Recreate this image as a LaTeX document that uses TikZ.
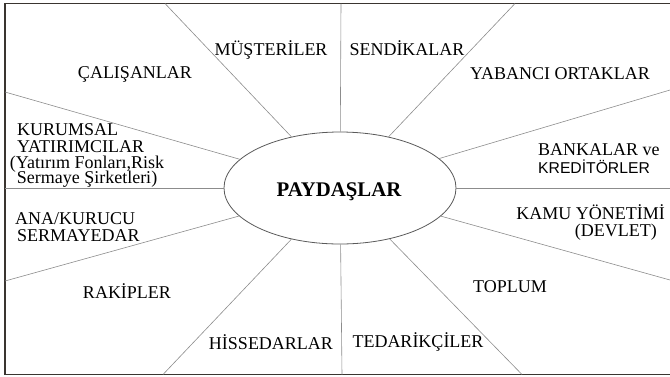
\documentclass[tikz,border=0pt]{standalone}
\usepackage{fontspec}
\setmainfont{Liberation Serif}
\newfontfamily\labsans{Liberation Sans}
\usetikzlibrary{shapes.geometric}
\definecolor{framec}{HTML}{3A3530}
\definecolor{spokec}{HTML}{8C8C8C}
\definecolor{ellc}{HTML}{5A5A5A}
\begin{document}
\begin{tikzpicture}[x=1pt,y=-1pt,
  lab/.style={inner sep=0pt,font=\fontsize{18}{18}\selectfont},
  spoke/.style={draw=spokec,line width=0.6pt},
  frame/.style={draw=framec,line width=1.6pt}]
\useasboundingbox (0,0) rectangle (670,376);
\draw[frame] (672,3.5) -- (5,3.5) -- (5,374.5) -- (672,374.5);
\node[ellipse,draw=ellc,line width=0.8pt,fill=white,minimum width=232pt,minimum height=112pt,inner sep=0pt] (P) at (340,188) {};
\node[inner sep=0pt,anchor=base,font=\fontsize{20.8}{21}\selectfont\bfseries] (PT) at (339,196) {PAYDAŞLAR};
% spoke ends
\coordinate (e1) at (341,3.5);
\coordinate (e2) at (165,3.5);
\coordinate (e3) at (5,92);
\coordinate (e4) at (5,188);
\coordinate (e5) at (5,281);
\coordinate (e6) at (163,374.5);
\coordinate (e7) at (342,374.5);
\coordinate (e8) at (522,374.5);
\coordinate (e9) at (670,280);
\coordinate (e10) at (670,188);
\coordinate (e11) at (670,90);
\coordinate (e12) at (515,3.5);
\foreach \i in {1,...,12} {\draw[spoke] (e\i) -- (P);}
% labels
\node[lab,anchor=base] (l1) at (271,55) {MÜŞTERİLER};
\node[lab,anchor=base] (l2) at (135,78) {ÇALIŞANLAR};
\node[lab,anchor=base] (l3) at (407,55) {SENDİKALAR};
\node[lab,anchor=base] (l4) at (560,79) {YABANCI ORTAKLAR};
\node[lab,anchor=base west] (l5a) at (17,135) {KURUMSAL};
\node[lab,anchor=base west] (l5b) at (17,152) {YATIRIMCILAR};
\node[lab,anchor=base] (l5c) at (87,168) {(Yatırım Fonları,Risk};
\node[lab,anchor=base] (l5d) at (87,183) {Sermaye Şirketleri)};
\node[lab,anchor=base west] (l6a) at (538,155) {BANKALAR ve};
\node[lab,anchor=base west,font=\labsans\fontsize{15.7}{16}\selectfont] (l6b) at (538,173) {KREDİTÖRLER};
\node[lab,anchor=base west] (l7a) at (15,224) {ANA/KURUCU};
\node[lab,anchor=base west] (l7b) at (17,241) {SERMAYEDAR};
\node[lab,anchor=base east] (l8a) at (665,219) {KAMU YÖNETİMİ};
\node[lab,anchor=base east] (l8b) at (657,236) {(DEVLET)};
\node[lab,anchor=base] (l9) at (127,298) {RAKİPLER};
\node[lab,anchor=base] (l10) at (510,292) {TOPLUM};
\node[lab,anchor=base] (l11) at (271,349) {HİSSEDARLAR};
\node[lab,anchor=base] (l12) at (418,347) {TEDARİKÇİLER};
\end{tikzpicture}
\end{document}
